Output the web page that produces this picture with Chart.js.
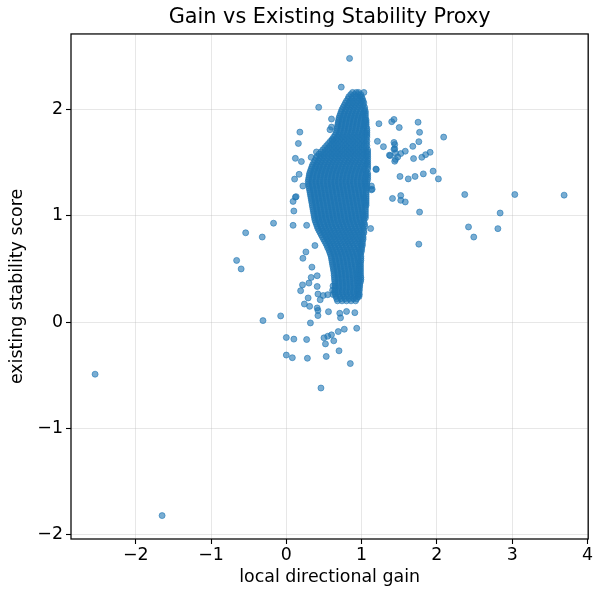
<!DOCTYPE html>
<html>
<head>
<meta charset="utf-8">
<script src="https://cdn.jsdelivr.net/npm/chart.js@4.4.1/dist/chart.umd.min.js"></script>
<style>
  html, body { margin: 0; padding: 0; background: #fff; }
  #wrap { width: 594px; height: 591px; }
</style>
</head>
<body>
<div id="wrap"><canvas id="chart" width="594" height="591"></canvas></div>
<script>
const TITLE = "Gain vs Existing Stability Proxy";
const X_LABEL = "local directional gain";
const Y_LABEL = "existing stability score";
const X_TICKS = [-2, -1, 0, 1, 2, 3, 4];
const Y_TICKS = [-2, -1, 0, 1, 2];
const X_RANGE = [-2.86, 4.01];
const Y_RANGE = [-2.04, 2.71];

// dense core of the cloud, read row by row (one stability level per row)
const coreStability = [
  2.16, 2.14, 2.12, 2.10, 2.08, 2.06, 2.04, 2.02, 2.00, 1.98,
  1.96, 1.94, 1.92, 1.90, 1.88, 1.86, 1.84, 1.82, 1.80, 1.78,
  1.76, 1.74, 1.72, 1.70, 1.68, 1.66, 1.64, 1.62, 1.60, 1.58,
  1.56, 1.54, 1.52, 1.50, 1.48, 1.46, 1.44, 1.42, 1.40, 1.38,
  1.36, 1.34, 1.32, 1.30, 1.28, 1.26, 1.24, 1.22, 1.20, 1.18,
  1.16, 1.14, 1.12, 1.10, 1.08, 1.06, 1.04, 1.02, 1.00, 0.98,
  0.96, 0.94, 0.92, 0.90, 0.88, 0.86, 0.84, 0.82, 0.80, 0.78,
  0.76, 0.74, 0.72, 0.70, 0.68, 0.66, 0.64, 0.62, 0.60, 0.58,
  0.56, 0.54, 0.52, 0.50, 0.48, 0.46, 0.44, 0.42, 0.40, 0.38,
  0.36, 0.34, 0.32, 0.30, 0.28, 0.26, 0.24, 0.22, 0.20
];
const coreGain = [
  [0.88, 0.93, 0.96], // 2.16
  [0.855, 0.905, 0.955, 0.99],
  [0.83, 0.88, 0.93, 0.98, 1.00],
  [0.82, 0.87, 0.92, 0.97, 1.01],
  [0.80, 0.85, 0.90, 0.95, 1.00, 1.02],
  [0.785, 0.835, 0.885, 0.935, 0.985, 1.03],
  [0.77, 0.82, 0.87, 0.92, 0.97, 1.02],
  [0.755, 0.805, 0.855, 0.905, 0.955, 1.005, 1.04],
  [0.74, 0.79, 0.84, 0.89, 0.94, 0.99, 1.04], // 2.00
  [0.73, 0.78, 0.83, 0.88, 0.93, 0.98, 1.03, 1.05],
  [0.72, 0.77, 0.82, 0.87, 0.92, 0.97, 1.02, 1.05],
  [0.71, 0.76, 0.81, 0.86, 0.91, 0.96, 1.01, 1.05],
  [0.70, 0.75, 0.80, 0.85, 0.90, 0.95, 1.00, 1.05],
  [0.695, 0.745, 0.795, 0.845, 0.895, 0.945, 0.995, 1.045, 1.06], // 1.90
  [0.69, 0.74, 0.79, 0.84, 0.89, 0.94, 0.99, 1.04, 1.06],
  [0.685, 0.735, 0.785, 0.835, 0.885, 0.935, 0.985, 1.035, 1.06],
  [0.68, 0.73, 0.78, 0.83, 0.88, 0.93, 0.98, 1.03, 1.06],
  [0.675, 0.725, 0.775, 0.825, 0.875, 0.925, 0.975, 1.025, 1.07],
  [0.67, 0.72, 0.77, 0.82, 0.87, 0.92, 0.97, 1.02, 1.07], // 1.80
  [0.66, 0.71, 0.76, 0.81, 0.86, 0.91, 0.96, 1.01, 1.05, 1.07],
  [0.65, 0.70, 0.75, 0.80, 0.85, 0.90, 0.95, 1.00, 1.05, 1.07],
  [0.63, 0.68, 0.73, 0.78, 0.83, 0.88, 0.93, 0.98, 1.03, 1.07],
  [0.61, 0.66, 0.71, 0.76, 0.81, 0.86, 0.91, 0.96, 1.01, 1.06],
  [0.585, 0.635, 0.685, 0.735, 0.785, 0.835, 0.885, 0.935, 0.985, 1.035, 1.07], // 1.70
  [0.56, 0.61, 0.66, 0.71, 0.76, 0.81, 0.86, 0.91, 0.96, 1.01, 1.06],
  [0.535, 0.585, 0.635, 0.685, 0.735, 0.785, 0.835, 0.885, 0.935, 0.985, 1.035, 1.07],
  [0.51, 0.56, 0.61, 0.66, 0.71, 0.76, 0.81, 0.86, 0.91, 0.96, 1.01, 1.06],
  [0.485, 0.535, 0.585, 0.635, 0.685, 0.735, 0.785, 0.835, 0.885, 0.935, 0.985, 1.035, 1.08],
  [0.46, 0.51, 0.56, 0.61, 0.66, 0.71, 0.76, 0.81, 0.86, 0.91, 0.96, 1.01, 1.06, 1.08], // 1.60
  [0.435, 0.485, 0.535, 0.585, 0.635, 0.685, 0.735, 0.785, 0.835, 0.885, 0.935, 0.985, 1.035, 1.08],
  [0.41, 0.46, 0.51, 0.56, 0.61, 0.66, 0.71, 0.76, 0.81, 0.86, 0.91, 0.96, 1.01, 1.06, 1.08],
  [0.395, 0.445, 0.495, 0.545, 0.595, 0.645, 0.695, 0.745, 0.795, 0.845, 0.895, 0.945, 0.995, 1.045, 1.08],
  [0.38, 0.43, 0.48, 0.53, 0.58, 0.63, 0.68, 0.73, 0.78, 0.83, 0.88, 0.93, 0.98, 1.03, 1.08],
  [0.365, 0.415, 0.465, 0.515, 0.565, 0.615, 0.665, 0.715, 0.765, 0.815, 0.865, 0.915, 0.965, 1.015, 1.065, 1.08], // 1.50
  [0.35, 0.40, 0.45, 0.50, 0.55, 0.60, 0.65, 0.70, 0.75, 0.80, 0.85, 0.90, 0.95, 1.00, 1.05, 1.08],
  [0.34, 0.39, 0.44, 0.49, 0.54, 0.59, 0.64, 0.69, 0.74, 0.79, 0.84, 0.89, 0.94, 0.99, 1.04, 1.08],
  [0.33, 0.38, 0.43, 0.48, 0.53, 0.58, 0.63, 0.68, 0.73, 0.78, 0.83, 0.88, 0.93, 0.98, 1.03, 1.08],
  [0.32, 0.37, 0.42, 0.47, 0.52, 0.57, 0.62, 0.67, 0.72, 0.77, 0.82, 0.87, 0.92, 0.97, 1.02, 1.06],
  [0.31, 0.36, 0.41, 0.46, 0.51, 0.56, 0.61, 0.66, 0.71, 0.76, 0.81, 0.86, 0.91, 0.96, 1.01, 1.06, 1.08], // 1.40
  [0.305, 0.355, 0.405, 0.455, 0.505, 0.555, 0.605, 0.655, 0.705, 0.755, 0.805, 0.855, 0.905, 0.955, 1.005, 1.055, 1.08],
  [0.30, 0.35, 0.40, 0.45, 0.50, 0.55, 0.60, 0.65, 0.70, 0.75, 0.80, 0.85, 0.90, 0.95, 1.00, 1.05, 1.08],
  [0.295, 0.345, 0.395, 0.445, 0.495, 0.545, 0.595, 0.645, 0.695, 0.745, 0.795, 0.845, 0.895, 0.945, 0.995, 1.045, 1.08],
  [0.29, 0.34, 0.39, 0.44, 0.49, 0.54, 0.59, 0.64, 0.69, 0.74, 0.79, 0.84, 0.89, 0.94, 0.99, 1.04, 1.07],
  [0.295, 0.345, 0.395, 0.445, 0.495, 0.545, 0.595, 0.645, 0.695, 0.745, 0.795, 0.845, 0.895, 0.945, 0.995, 1.045, 1.07], // 1.30
  [0.30, 0.35, 0.40, 0.45, 0.50, 0.55, 0.60, 0.65, 0.70, 0.75, 0.80, 0.85, 0.90, 0.95, 1.00, 1.05, 1.07],
  [0.305, 0.355, 0.405, 0.455, 0.505, 0.555, 0.605, 0.655, 0.705, 0.755, 0.805, 0.855, 0.905, 0.955, 1.005, 1.055, 1.07],
  [0.31, 0.36, 0.41, 0.46, 0.51, 0.56, 0.61, 0.66, 0.71, 0.76, 0.81, 0.86, 0.91, 0.96, 1.01, 1.06],
  [0.315, 0.365, 0.415, 0.465, 0.515, 0.565, 0.615, 0.665, 0.715, 0.765, 0.815, 0.865, 0.915, 0.965, 1.015, 1.06],
  [0.32, 0.37, 0.42, 0.47, 0.52, 0.57, 0.62, 0.67, 0.72, 0.77, 0.82, 0.87, 0.92, 0.97, 1.02, 1.06], // 1.20
  [0.325, 0.375, 0.425, 0.475, 0.525, 0.575, 0.625, 0.675, 0.725, 0.775, 0.825, 0.875, 0.925, 0.975, 1.025, 1.06],
  [0.33, 0.38, 0.43, 0.48, 0.53, 0.58, 0.63, 0.68, 0.73, 0.78, 0.83, 0.88, 0.93, 0.98, 1.03, 1.06],
  [0.335, 0.385, 0.435, 0.485, 0.535, 0.585, 0.635, 0.685, 0.735, 0.785, 0.835, 0.885, 0.935, 0.985, 1.035, 1.06],
  [0.34, 0.39, 0.44, 0.49, 0.54, 0.59, 0.64, 0.69, 0.74, 0.79, 0.84, 0.89, 0.94, 0.99, 1.04, 1.06],
  [0.345, 0.395, 0.445, 0.495, 0.545, 0.595, 0.645, 0.695, 0.745, 0.795, 0.845, 0.895, 0.945, 0.995, 1.045, 1.06], // 1.10
  [0.35, 0.40, 0.45, 0.50, 0.55, 0.60, 0.65, 0.70, 0.75, 0.80, 0.85, 0.90, 0.95, 1.00, 1.05],
  [0.355, 0.405, 0.455, 0.505, 0.555, 0.605, 0.655, 0.705, 0.755, 0.805, 0.855, 0.905, 0.955, 1.005, 1.05],
  [0.36, 0.41, 0.46, 0.51, 0.56, 0.61, 0.66, 0.71, 0.76, 0.81, 0.86, 0.91, 0.96, 1.01, 1.05],
  [0.365, 0.415, 0.465, 0.515, 0.565, 0.615, 0.665, 0.715, 0.765, 0.815, 0.865, 0.915, 0.965, 1.015, 1.05],
  [0.37, 0.42, 0.47, 0.52, 0.57, 0.62, 0.67, 0.72, 0.77, 0.82, 0.87, 0.92, 0.97, 1.02, 1.05], // 1.00
  [0.375, 0.425, 0.475, 0.525, 0.575, 0.625, 0.675, 0.725, 0.775, 0.825, 0.875, 0.925, 0.975, 1.025, 1.05],
  [0.38, 0.43, 0.48, 0.53, 0.58, 0.63, 0.68, 0.73, 0.78, 0.83, 0.88, 0.93, 0.98, 1.03],
  [0.39, 0.44, 0.49, 0.54, 0.59, 0.64, 0.69, 0.74, 0.79, 0.84, 0.89, 0.94, 0.99, 1.03],
  [0.40, 0.45, 0.50, 0.55, 0.60, 0.65, 0.70, 0.75, 0.80, 0.85, 0.90, 0.95, 1.00, 1.04],
  [0.41, 0.46, 0.51, 0.56, 0.61, 0.66, 0.71, 0.76, 0.81, 0.86, 0.91, 0.96, 1.01, 1.04], // 0.90
  [0.42, 0.47, 0.52, 0.57, 0.62, 0.67, 0.72, 0.77, 0.82, 0.87, 0.92, 0.97, 1.02],
  [0.435, 0.485, 0.535, 0.585, 0.635, 0.685, 0.735, 0.785, 0.835, 0.885, 0.935, 0.985, 1.03],
  [0.45, 0.50, 0.55, 0.60, 0.65, 0.70, 0.75, 0.80, 0.85, 0.90, 0.95, 1.00, 1.03],
  [0.465, 0.515, 0.565, 0.615, 0.665, 0.715, 0.765, 0.815, 0.865, 0.915, 0.965, 1.015],
  [0.48, 0.53, 0.58, 0.63, 0.68, 0.73, 0.78, 0.83, 0.88, 0.93, 0.98, 1.02], // 0.80
  [0.495, 0.545, 0.595, 0.645, 0.695, 0.745, 0.795, 0.845, 0.895, 0.945, 0.995, 1.02],
  [0.51, 0.56, 0.61, 0.66, 0.71, 0.76, 0.81, 0.86, 0.91, 0.96, 1.01],
  [0.525, 0.575, 0.625, 0.675, 0.725, 0.775, 0.825, 0.875, 0.925, 0.975, 1.01],
  [0.54, 0.59, 0.64, 0.69, 0.74, 0.79, 0.84, 0.89, 0.94, 0.99, 1.01],
  [0.55, 0.60, 0.65, 0.70, 0.75, 0.80, 0.85, 0.90, 0.95, 1.00], // 0.70
  [0.565, 0.615, 0.665, 0.715, 0.765, 0.815, 0.865, 0.915, 0.965, 1.00],
  [0.575, 0.625, 0.675, 0.725, 0.775, 0.825, 0.875, 0.925, 0.975, 0.995],
  [0.585, 0.635, 0.685, 0.735, 0.785, 0.835, 0.885, 0.935, 0.985],
  [0.595, 0.645, 0.695, 0.745, 0.795, 0.845, 0.895, 0.945, 0.99],
  [0.60, 0.65, 0.70, 0.75, 0.80, 0.85, 0.90, 0.95, 0.99], // 0.60
  [0.605, 0.655, 0.705, 0.755, 0.805, 0.855, 0.905, 0.955, 0.99],
  [0.61, 0.66, 0.71, 0.76, 0.81, 0.86, 0.91, 0.96, 0.985],
  [0.615, 0.665, 0.715, 0.765, 0.815, 0.865, 0.915, 0.965, 0.985],
  [0.62, 0.67, 0.72, 0.77, 0.82, 0.87, 0.92, 0.965, 0.985],
  [0.625, 0.675, 0.725, 0.775, 0.825, 0.875, 0.925, 0.965, 0.985], // 0.50
  [0.63, 0.68, 0.73, 0.78, 0.83, 0.88, 0.93, 0.965, 0.985],
  [0.635, 0.685, 0.735, 0.785, 0.835, 0.885, 0.935, 0.96, 0.985],
  [0.635, 0.685, 0.735, 0.785, 0.835, 0.885, 0.935, 0.96, 0.985],
  [0.64, 0.69, 0.74, 0.79, 0.84, 0.89, 0.94, 0.965, 0.99],
  [0.64, 0.69, 0.74, 0.79, 0.84, 0.89, 0.94, 0.965, 0.99], // 0.40
  [0.645, 0.695, 0.745, 0.795, 0.845, 0.895, 0.945, 0.96, 0.985],
  [0.645, 0.695, 0.745, 0.795, 0.845, 0.895, 0.945, 0.975],
  [0.62, 0.65, 0.70, 0.75, 0.80, 0.85, 0.90, 0.95, 0.975],
  [0.65, 0.70, 0.75, 0.80, 0.85, 0.90, 0.95, 0.97],
  [0.615, 0.645, 0.695, 0.745, 0.795, 0.845, 0.895, 0.945, 0.97], // 0.30
  [0.64, 0.69, 0.74, 0.79, 0.84, 0.89, 0.94, 0.965],
  [0.62, 0.65, 0.70, 0.75, 0.80, 0.85, 0.90, 0.95, 0.97],
  [0.66, 0.71, 0.76, 0.81, 0.86, 0.91, 0.95, 0.965],
  [0.67, 0.725, 0.78, 0.835, 0.89, 0.935],
  [0.68, 0.74, 0.80, 0.86, 0.92] // 0.20
];

// scattered points around the core
const outlierGain = [
  -2.54, -1.65, -0.54, -0.32, -0.17, -0.66, -0.60, 0.09, 0.10, 0.09,
  0.12, -0.31, -0.075, 0.00, 0.10, 0.00, 0.08, 0.27, 0.28, 0.32,
  0.50, 0.55, 0.60, 0.52, 0.63, 0.53, 0.70, 0.85, 0.46, 0.69,
  0.77, 0.935, 0.91, 0.42, 0.42, 0.56, 0.24, 0.31, 0.41, 0.19,
  0.29, 0.45, 0.42, 0.49, 0.55, 0.72, 0.80, 0.71, 0.13, 0.22,
  1.41, 1.12, 1.14, 0.27, 0.26, 0.22, 0.38, 0.34, 0.33, 0.215,
  0.30, 0.41, 0.41, 0.73, 0.84, 0.43, 1.03, 0.18, 0.16, 0.12,
  0.20, 0.11, 0.17, 0.33, 0.40, 0.60, 0.58, 0.60, 0.61, 1.23,
  1.19, 1.21, 1.29, 1.40, 1.43, 1.43, 1.37, 1.45, 1.43, 1.13,
  1.50, 1.75, 1.77, 2.09, 1.44, 1.44, 1.38, 1.45, 1.52, 1.58,
  1.44, 1.48, 1.68, 1.76, 1.69, 1.80, 1.85, 1.91, 1.195, 1.51,
  1.62, 1.71, 1.82, 1.95, 2.02, 1.13, 1.52, 1.52, 1.58, 1.77,
  2.37, 2.42, 2.49, 1.76, 2.84, 2.81, 3.035, 3.69
];
const outlierStability = [
  -0.49, -1.82, 0.84, 0.80, 0.93, 0.58, 0.50, 0.91, 1.045, 1.135,
  1.175, 0.014, 0.058, -0.145, -0.16, -0.31, -0.335, -0.164, -0.34, -0.008,
  -0.148, -0.133, -0.12, -0.205, -0.176, -0.323, -0.27, -0.39, -0.62, -0.089,
  -0.067, -0.058, 0.089, 0.061, 0.11, 0.098, 0.17, 0.148, 0.133, 0.295,
  0.227, 0.21, 0.264, 0.25, 0.258, 0.04, 0.10, 0.083, 1.18, 1.28,
  1.163, 0.88, 1.25, 0.91, 0.66, 0.60, 0.72, 0.517, 0.42, 0.35,
  0.367, 0.436, 0.335, 2.21, 2.48, 2.02, 2.16, 1.787, 1.68, 1.54,
  1.51, 1.345, 1.39, 1.55, 1.60, 1.91, 1.81, 1.834, 1.71, 1.866,
  1.44, 1.70, 1.65, 1.885, 1.906, 1.69, 1.57, 1.53, 1.625, 1.28,
  1.83, 1.88, 1.785, 1.74, 1.67, 1.63, 1.566, 1.59, 1.585, 1.607,
  1.513, 1.553, 1.653, 1.697, 1.538, 1.55, 1.575, 1.597, 1.435, 1.37,
  1.347, 1.37, 1.394, 1.42, 1.347, 1.244, 1.19, 1.145, 1.13, 1.035,
  1.20, 0.895, 0.80, 0.733, 1.026, 0.879, 1.20, 1.194
];

const points = [];
coreStability.forEach((y, i) => coreGain[i].forEach((x) => points.push({ x, y })));
outlierGain.forEach((x, i) => points.push({ x, y: outlierStability[i] }));

const BLUE = "rgba(31, 119, 180, 0.6)";
const GRID = "rgba(176, 176, 176, 0.3)";
const FONT = "DejaVu Sans";
const minus = (v) => String(v).replace("-", "\u2212");

// matplotlib-style full box round the axes, title centred on the plot area
const frame = {
  id: "frame",
  afterLayout(chart) {
    const t = chart.titleBlock;
    t.left = chart.chartArea.left;
    t.right = chart.chartArea.right;
  },
  afterDraw(chart) {
    const { ctx, chartArea: a } = chart;
    ctx.save();
    ctx.strokeStyle = "#000";
    ctx.lineWidth = 1.25;
    ctx.strokeRect(a.left, a.top, a.right - a.left, a.bottom - a.top);
    ctx.restore();
  },
};

const axisCommon = {
  type: "linear",
  z: 1,
  border: { display: false },
  grid: { color: GRID, lineWidth: 1, tickLength: 5, tickColor: "#000", tickWidth: 1.1 },
  ticks: {
    color: "#000",
    font: { family: FONT, size: 17.4 },
    autoSkip: false,
    maxRotation: 0,
    callback: (v) => minus(v),
  },
};

new Chart(document.getElementById("chart").getContext("2d"), {
  type: "scatter",
  data: {
    datasets: [
      {
        data: points,
        backgroundColor: BLUE,
        borderColor: BLUE,
        borderWidth: 1,
        pointRadius: 3,
      },
    ],
  },
  options: {
    responsive: false,
    animation: false,
    devicePixelRatio: 1,
    layout: { padding: { left: 0, right: 3, top: 0, bottom: 0 } },
    plugins: {
      legend: { display: false },
      tooltip: { enabled: false },
      title: {
        display: true,
        text: TITLE,
        color: "#000",
        font: { family: FONT, size: 20.8, weight: "normal" },
        padding: { top: 5, bottom: 4 },
      },
    },
    scales: {
      x: {
        ...axisCommon,
        min: X_RANGE[0],
        max: X_RANGE[1],
        ticks: { ...axisCommon.ticks, padding: 1 },
        afterBuildTicks: (s) => { s.ticks = X_TICKS.map((v) => ({ value: v })); },
        afterFit: (s) => { s.height = 52; },
        title: {
          display: true,
          text: X_LABEL,
          color: "#000",
          font: { family: FONT, size: 17.4 },
          padding: { top: 0, bottom: 3 },
        },
      },
      y: {
        ...axisCommon,
        min: Y_RANGE[0],
        max: Y_RANGE[1],
        ticks: { ...axisCommon.ticks, padding: 3 },
        afterBuildTicks: (s) => { s.ticks = Y_TICKS.map((v) => ({ value: v })); },
        afterFit: (s) => { s.width = 71; },
        title: {
          display: true,
          text: Y_LABEL,
          color: "#000",
          font: { family: FONT, size: 17.4 },
          padding: { top: 7, bottom: 0 },
        },
      },
    },
  },
  plugins: [frame],
});
</script>
</body>
</html>
